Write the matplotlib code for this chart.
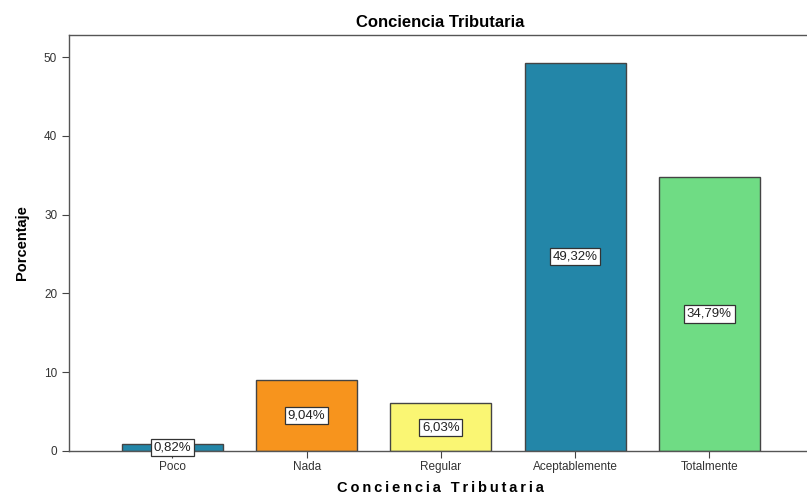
import matplotlib
matplotlib.use("Agg")
import matplotlib.pyplot as plt

categories = ["Poco", "Nada", "Regular", "Aceptablemente", "Totalmente"]
percentages = [0.82, 9.04, 6.03, 49.32, 34.79]
bar_labels = ["0,82%", "9,04%", "6,03%", "49,32%", "34,79%"]
colors = ["#2386a8", "#f7941d", "#faf673", "#2386a8", "#6fdc84"]

plt.rcParams['font.family'] = ['Liberation Sans', 'DejaVu Sans']

fig = plt.figure(figsize=(8.07, 4.95), dpi=100)
ax = fig.add_axes([0.0855, 0.089, 0.92, 0.84])

x = list(range(len(categories)))
ax.bar(x, percentages, width=0.752, color=colors, edgecolor="#444444", linewidth=1.0, zorder=2)

for xi, val, lab in zip(x, percentages, bar_labels):
    ax.text(xi, val / 2, lab, ha="center", va="center", fontsize=9.5, color="#222222",
            bbox=dict(boxstyle="square,pad=0.2", facecolor="white", edgecolor="#333333", linewidth=0.9),
            zorder=3)

ax.set_xlim(-0.77, 4.76)
ax.set_ylim(0, 52.8)
ax.set_xticks(x)
ax.set_xticklabels(categories, fontsize=8.5, color="#333333")
ax.set_yticks([0, 10, 20, 30, 40, 50])
ax.tick_params(axis="y", labelsize=8.5, labelcolor="#333333", length=5, color="#444444")
ax.tick_params(axis="x", length=5, color="#444444", pad=2)

for side in ["left", "top", "bottom"]:
    ax.spines[side].set_color("#555555")
    ax.spines[side].set_linewidth(1.0)
ax.spines["right"].set_visible(False)

ax.set_title("Conciencia Tributaria", fontsize=12, fontweight="bold", pad=6)
ax.set_xlabel("\u2009".join("Conciencia Tributaria"), fontsize=10.5, fontweight="bold", labelpad=6)
ax.set_ylabel("Porcentaje", fontsize=10.5, fontweight="bold", labelpad=11)

fig.savefig("out.png", dpi=100)
